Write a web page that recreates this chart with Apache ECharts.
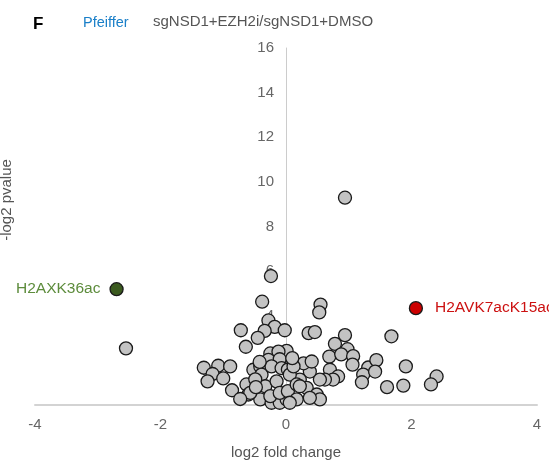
<!DOCTYPE html>
<html><head><meta charset="utf-8">
<script src="https://cdn.jsdelivr.net/npm/echarts@6/dist/echarts.min.js"></script>
<style>html,body{margin:0;padding:0;background:#fff}#c{width:549px;height:465px}</style>
</head><body><div id="c"></div>
<script>
const xTicks = [-4, -2, 0, 2, 4];
const yTicks = [0, 2, 4, 6, 8, 10, 12, 14, 16];
const grayPoints = [
  [0.94,9.29],[-0.24,5.78],[-0.38,4.63],[0.55,4.50],[0.53,4.15],[-0.28,3.79],[-0.18,3.50],
  [-0.72,3.35],[-0.34,3.32],[-0.02,3.35],[-0.45,3.01],[-0.64,2.61],[0.36,3.22],[0.46,3.27],
  [0.94,3.13],[0.78,2.74],[0.98,2.50],[0.69,2.17],[0.88,2.27],[1.07,2.19],[1.06,1.81],
  [0.01,2.43],[-0.25,2.31],[-0.12,2.39],[-1.31,1.67],[-1.08,1.76],[-0.89,1.73],[-1.17,1.39],
  [-1.25,1.06],[-1.00,1.19],[-0.86,0.66],[1.31,1.68],[1.44,2.01],[1.23,1.36],[1.21,1.02],
  [1.68,3.08],[1.42,1.50],[1.91,1.73],[1.61,0.80],[1.87,0.87],[2.40,1.28],[2.31,0.92],
  [-2.55,2.54],[-0.28,2.02],[-0.10,2.05],[-0.52,1.58],[-0.41,1.73],[-0.39,1.36],[-0.23,1.73],
  [-0.07,1.65],[0.03,1.59],[-0.63,0.92],[-0.33,0.84],[-0.15,1.06],[-0.60,0.47],[-0.41,0.25],
  [-0.23,0.10],[-0.10,0.10],[0.01,0.25],[-0.25,0.40],[-0.57,0.54],[-0.10,0.54],[0.03,0.62],
  [0.70,1.58],[0.83,1.28],[0.75,1.14],[0.62,1.14],[0.54,1.14],[0.38,1.50],[0.22,1.14],
  [0.06,1.36],[0.17,0.92],[0.33,0.77],[0.49,0.47],[0.54,0.25],[0.38,0.32],[0.17,0.25],
  [0.28,1.87],[0.12,1.73],[0.41,1.95],[-0.49,1.15],[0.22,0.84],[-0.73,0.27],[-0.42,1.93],
  [0.06,0.10],[-0.48,0.80],[0.10,2.10]
];
const greenPoint = [[-2.70, 5.19]];
const greenName = 'H2AXK36ac';
const redPoint = [[2.07, 4.34]];
const redName = 'H2AVK7acK15ac';

const chart = echarts.init(document.getElementById('c'));
const ptStyle = (fill) => ({ color: fill, borderColor: '#1a1a1a', borderWidth: 1.3, opacity: 1 });
chart.setOption({
  animation: false,
  grid: { left: 35, right: 12, top: 48, bottom: 54, containLabel: false },
  xAxis: {
    type: 'value', min: -4, max: 4, interval: 2,
    name: 'log2 fold change', nameLocation: 'middle', nameGap: 40,
    nameTextStyle: { color: '#555', fontSize: 15, fontFamily: 'Liberation Sans' },
    axisLine: { lineStyle: { color: '#d3d3d3', width: 2 } },
    axisTick: { show: false }, splitLine: { show: false },
    axisLabel: { color: '#666', fontSize: 15, margin: 12, fontFamily: 'Liberation Sans',
      formatter: v => xTicks.includes(v) ? String(v) : '' }
  },
  yAxis: {
    type: 'value', min: 0, max: 16, interval: 2,
    offset: -251,
    axisLine: { onZero: false, lineStyle: { color: '#cccccc', width: 1 } },
    axisTick: { show: false }, splitLine: { show: false },
    axisLabel: { color: '#666', fontSize: 15, margin: 12, fontFamily: 'Liberation Sans',
      formatter: v => yTicks.includes(v) ? String(v) : '' }
  },
  graphic: [
    { type: 'text', left: 33, top: 16, style: { text: 'F', font: 'bold 17px Liberation Sans', fill: '#000' } },
    { type: 'text', left: 83, top: 15, style: { text: 'Pfeiffer', font: '14.5px Liberation Sans', fill: '#1a7fc8' } },
    { type: 'text', left: 153, top: 14, style: { text: 'sgNSD1+EZH2i/sgNSD1+DMSO', font: '15px Liberation Sans', fill: '#555' } },
    { type: 'text', x: 7, y: 200, rotation: Math.PI / 2,
      style: { text: '-log2 pvalue', font: '15px Liberation Sans', fill: '#555', align: 'center', verticalAlign: 'middle' } }
  ],
  series: [
    { type: 'scatter', data: grayPoints, symbolSize: 13, itemStyle: ptStyle('#c3c3c3') },
    { type: 'scatter', data: greenPoint, symbolSize: 13, itemStyle: ptStyle('#3b5a1f'),
      label: { show: true, position: 'left', distance: 9, formatter: greenName, color: '#5d8c3c', fontSize: 15.5, fontFamily: 'Liberation Sans' } },
    { type: 'scatter', data: redPoint, symbolSize: 13, itemStyle: ptStyle('#cc0000'),
      label: { show: true, position: 'right', distance: 12, formatter: redName, color: '#cc1111', fontSize: 15.5, fontFamily: 'Liberation Sans' } }
  ]
});
</script></body></html>
